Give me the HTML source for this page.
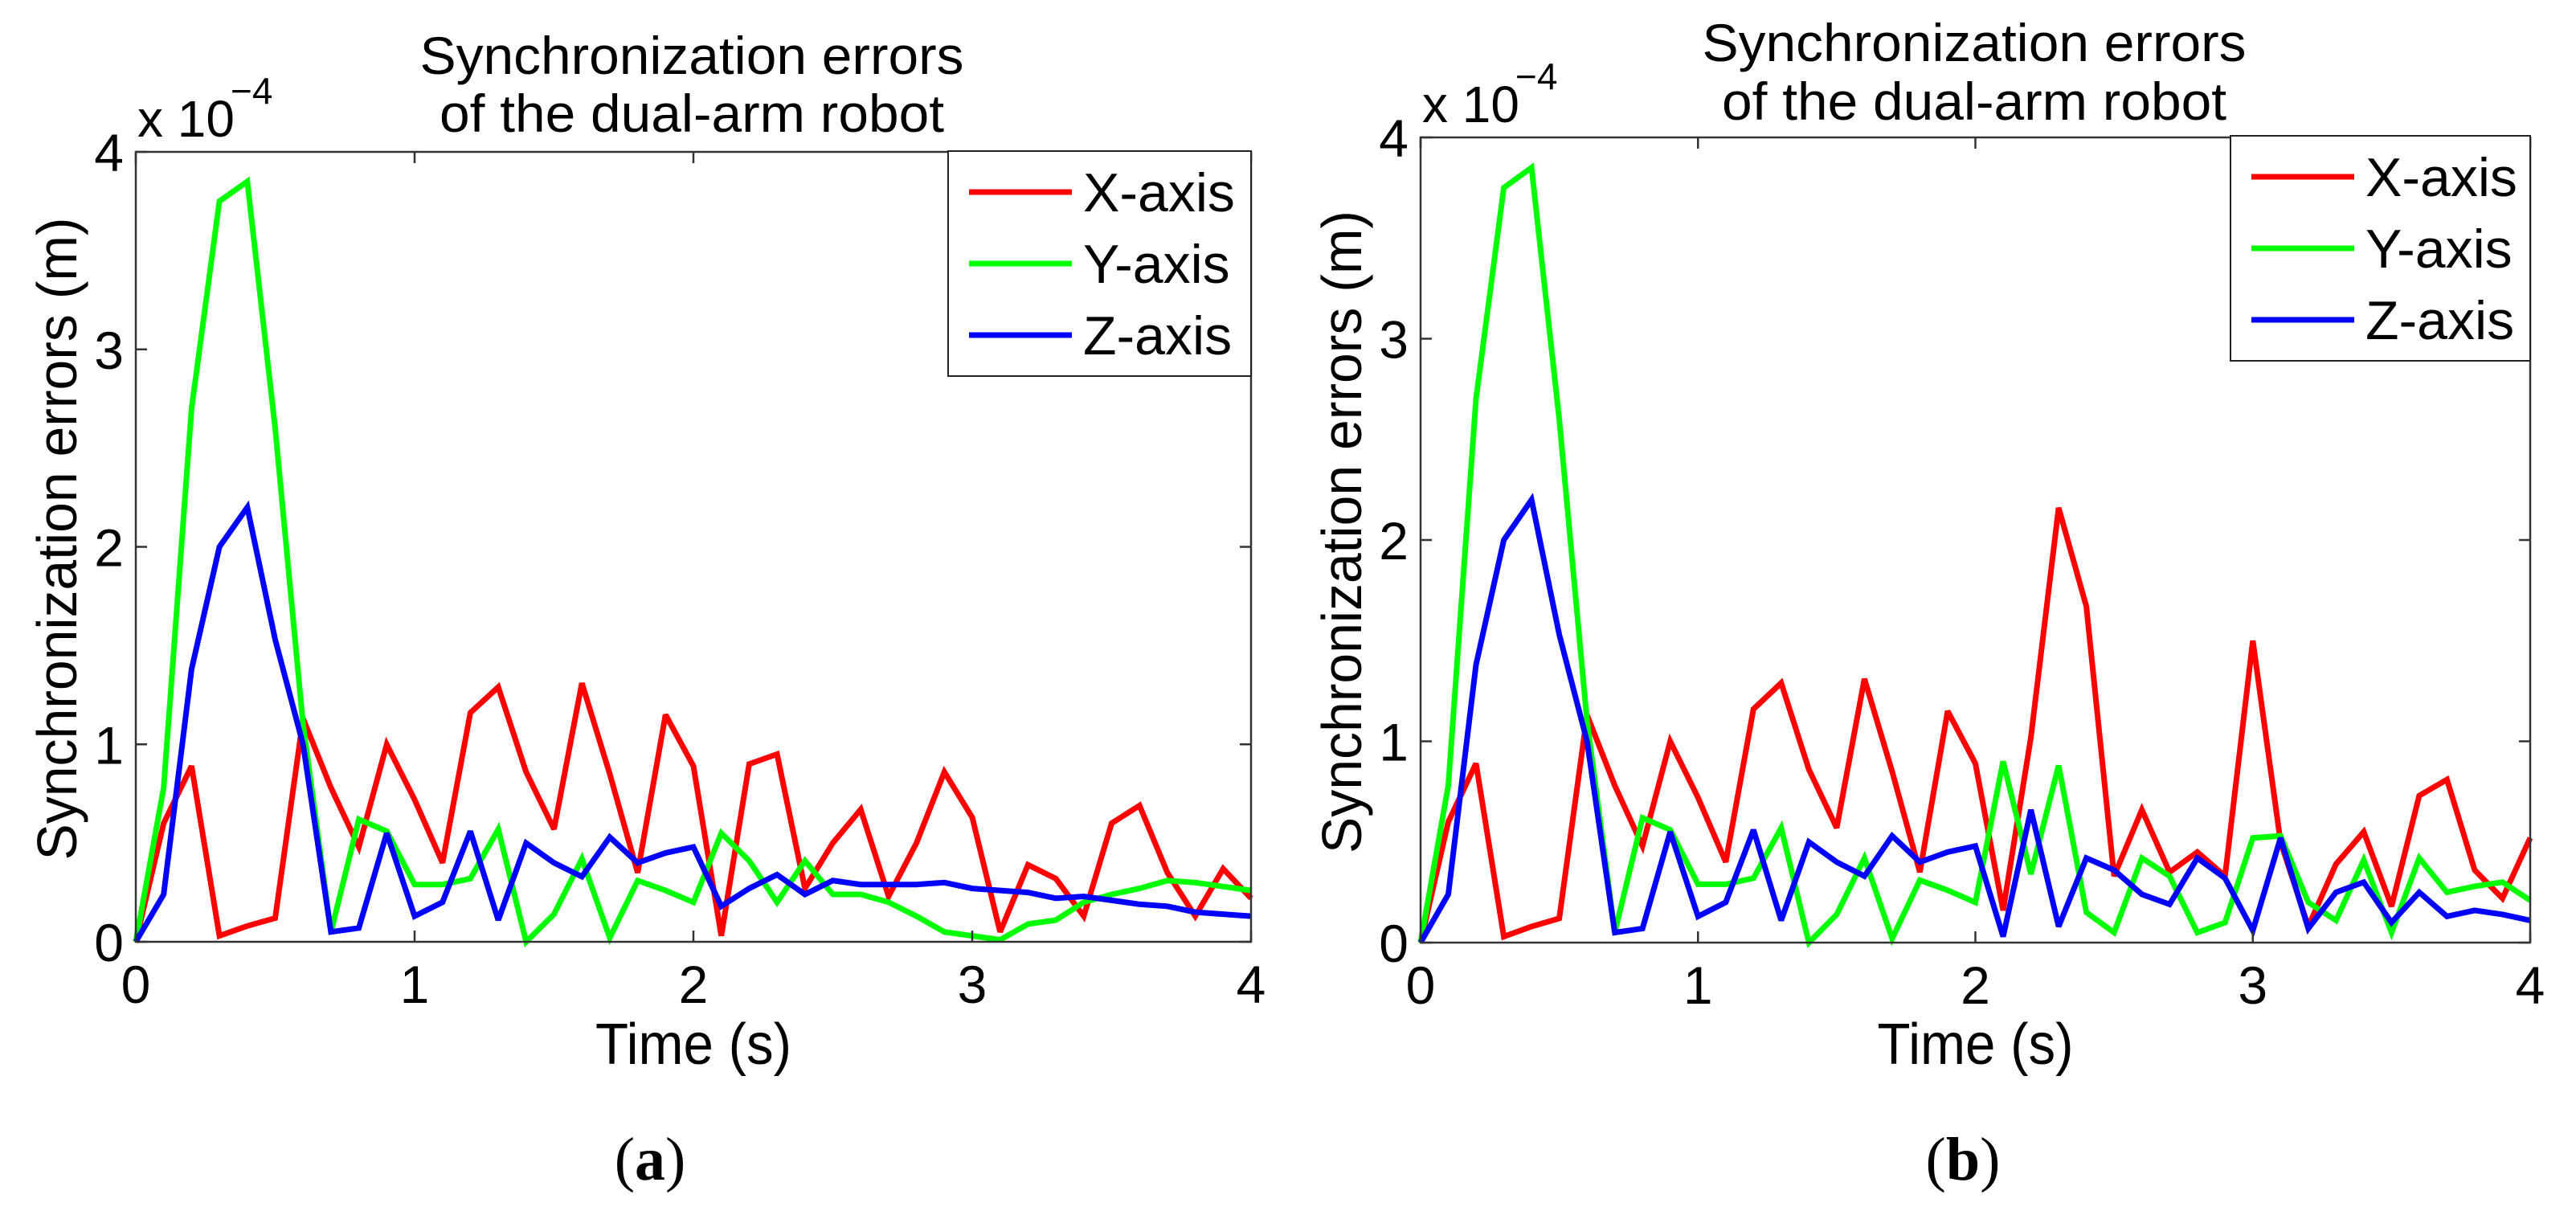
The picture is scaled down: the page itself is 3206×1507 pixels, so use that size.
<!DOCTYPE html>
<html><head><meta charset="utf-8"><style>
html,body{margin:0;padding:0;background:#fff;}
svg{display:block;font-family:"Liberation Sans",sans-serif;}
</style></head><body>
<svg id="fig" width="3206" height="1507" viewBox="0 0 3206 1507" xmlns="http://www.w3.org/2000/svg">
<rect width="3206" height="1507" fill="#fff"/>
</svg>
<script>
const times = [0,0.1,0.2,0.3,0.4,0.5,0.6,0.7,0.8,0.9,1.0,1.1,1.2,1.3,1.4,1.5,1.6,1.7,1.8,1.9,2.0,2.1,2.2,2.3,2.4,2.5,2.6,2.7,2.8,2.9,3.0,3.1,3.2,3.3,3.4,3.5,3.6,3.7,3.8,3.9,4.0];
const xTicks = [0,1,2,3,4];
const yTicks = [0,1,2,3,4];
const aX = [0,0.6,0.89,0.03,0.08,0.12,1.13,0.78,0.48,1.0,0.72,0.4,1.16,1.29,0.86,0.57,1.31,0.85,0.35,1.15,0.89,0.03,0.9,0.95,0.27,0.5,0.67,0.23,0.5,0.86,0.63,0.05,0.39,0.32,0.13,0.6,0.69,0.35,0.13,0.37,0.22];
const aY = [0,0.78,2.7,3.75,3.85,2.6,1.1,0.05,0.62,0.56,0.29,0.29,0.32,0.57,0.0,0.14,0.42,0.02,0.31,0.26,0.2,0.55,0.41,0.2,0.41,0.24,0.24,0.2,0.13,0.05,0.03,0.01,0.09,0.11,0.2,0.24,0.27,0.31,0.3,0.28,0.26];
const aZ = [0,0.24,1.38,2.0,2.2,1.53,1.0,0.05,0.07,0.55,0.13,0.2,0.56,0.11,0.5,0.4,0.33,0.53,0.4,0.45,0.48,0.18,0.27,0.34,0.24,0.31,0.29,0.29,0.29,0.3,0.27,0.26,0.25,0.22,0.23,0.21,0.19,0.18,0.15,0.14,0.13];
const bX = [0,0.6,0.89,0.03,0.08,0.12,1.13,0.78,0.48,1.0,0.72,0.4,1.16,1.29,0.86,0.57,1.31,0.85,0.35,1.15,0.89,0.16,1.02,2.16,1.67,0.33,0.66,0.35,0.45,0.33,1.5,0.5,0.08,0.39,0.55,0.18,0.73,0.81,0.36,0.22,0.52];
const bY = [0,0.78,2.7,3.75,3.85,2.6,1.1,0.05,0.62,0.56,0.29,0.29,0.32,0.57,0.0,0.14,0.42,0.02,0.31,0.26,0.2,0.9,0.34,0.88,0.15,0.05,0.42,0.33,0.05,0.1,0.52,0.53,0.2,0.11,0.41,0.05,0.42,0.25,0.28,0.3,0.21];
const bZ = [0,0.24,1.38,2.0,2.2,1.53,1.0,0.05,0.07,0.55,0.13,0.2,0.56,0.11,0.5,0.4,0.33,0.53,0.4,0.45,0.48,0.03,0.66,0.08,0.42,0.36,0.24,0.19,0.42,0.32,0.06,0.52,0.07,0.25,0.3,0.1,0.25,0.13,0.16,0.14,0.11];
const seriesNames = ["X-axis","Y-axis","Z-axis"];
const colors = ["#ff0000","#00ff00","#0000ff"];

const NS = "http://www.w3.org/2000/svg";
const svg = document.getElementById('fig');
function mk(tag, attrs, parent, text){
  const e = document.createElementNS(NS, tag);
  for (const k in attrs) e.setAttribute(k, attrs[k]);
  if (text !== undefined) e.textContent = text;
  (parent||svg).appendChild(e);
  return e;
}
function panel(p){
  const g = mk('g', {});
  
  
  const sx = v => p.x0 + (v - 0) / 4 * (p.x1 - p.x0);
  const sy = v => p.yb - v / 4 * (p.yb - p.yt);
  const t1 = mk('text', {x:p.cx, y:p.ty1, 'font-size':66, 'text-anchor':'middle', textLength:677, lengthAdjust:'spacingAndGlyphs'}, g, 'Synchronization errors');
  
  
  const t2 = mk('text', {x:p.cx, y:p.ty2, 'font-size':66, 'text-anchor':'middle', textLength:628, lengthAdjust:'spacingAndGlyphs'}, g, 'of the dual-arm robot');
  
  
  const ex = mk('text', {x:p.x0 + 2, y:p.yt - 19, 'font-size':64}, g, 'x 10');
  
  
  const ex2 = mk('text', {x:p.x0 + 118, y:p.yt - 60, 'font-size':46}, g, '\u22124');
  
  
  const data = [p.X, p.Y, p.Z];
  data.forEach((arr, si) => {
    const pts = arr.map((v, i) => sx(times[i]).toFixed(1) + ',' + sy(v).toFixed(1)).join(' ');
    const pl = mk('polyline', {points:pts, fill:'none', stroke:colors[si], 'stroke-width':7, 'stroke-linejoin':'miter', 'stroke-miterlimit':3}, g);
    
    
  });
  const box = mk('rect', {x:p.x0, y:p.yt, width:p.x1 - p.x0, height:p.yb - p.yt, fill:'none', stroke:'#333', 'stroke-width':2.5}, g);
  
  
  xTicks.forEach(v => {
    const x = sx(v);
    mk('line', {x1:x, y1:p.yb, x2:x, y2:p.yb - 14, stroke:'#333', 'stroke-width':2.5}, g);
    mk('line', {x1:x, y1:p.yt, x2:x, y2:p.yt + 14, stroke:'#333', 'stroke-width':2.5}, g);
    const tl = mk('text', {x:x, y:p.yb + 76, 'font-size':66, 'text-anchor':'middle'}, g, String(v));
    
    
  });
  yTicks.forEach(v => {
    const y = sy(v);
    mk('line', {x1:p.x0, y1:y, x2:p.x0 + 14, y2:y, stroke:'#333', 'stroke-width':2.5}, g);
    mk('line', {x1:p.x1, y1:y, x2:p.x1 - 14, y2:y, stroke:'#333', 'stroke-width':2.5}, g);
    const tl = mk('text', {x:p.x0 - 15, y:y + 24, 'font-size':66, 'text-anchor':'end'}, g, String(v));
    
    
  });
  const xt = mk('text', {x:(p.x0 + p.x1) / 2, y:1324, 'font-size':72, 'text-anchor':'middle', textLength:244, lengthAdjust:'spacingAndGlyphs'}, g, 'Time (s)');
  
  
  const yt = mk('text', {x:0, y:0, 'font-size':70, 'text-anchor':'middle', textLength:800, lengthAdjust:'spacingAndGlyphs', transform:'translate(' + (p.x0 - 74) + ',' + ((p.yt + p.yb) / 2 - 10) + ') rotate(-90)'}, g, 'Synchronization errors (m)');
  
  
  const lg = mk('g', {}, g);
  
  
  mk('rect', {x:p.lx, y:p.ly, width:p.x1 - p.lx, height:280, fill:'#fff', stroke:'#222', 'stroke-width':2}, lg);
  seriesNames.forEach((n, i) => {
    const y = p.ly + 51 + i * 89;
    const e = mk('g', {}, lg);
    
    
    mk('line', {x1:p.lx + 26, y1:y, x2:p.lx + 154, y2:y, stroke:colors[i], 'stroke-width':7}, e);
    mk('text', {x:p.lx + 168, y:y + 24, 'font-size':68}, e, n);
  });
  const cap = mk('text', {x:p.capx, y:1468, 'font-size':76, 'text-anchor':'middle', 'font-family':'Liberation Serif, serif'}, g);
  
  
  mk('tspan', {}, cap, '(');
  mk('tspan', {'font-weight':'bold'}, cap, p.id);
  mk('tspan', {}, cap, ')');
}
panel({id:'a', x0:169, x1:1557, yt:189, yb:1172, cx:861, ty1:92, ty2:164, lx:1180, ly:188, capx:809, X:aX, Y:aY, Z:aZ});
panel({id:'b', x0:1768, x1:3149, yt:171, yb:1173, cx:2457, ty1:76, ty2:149, lx:2776, ly:169, capx:2443, X:bX, Y:bY, Z:bZ});
</script>
</body></html>
